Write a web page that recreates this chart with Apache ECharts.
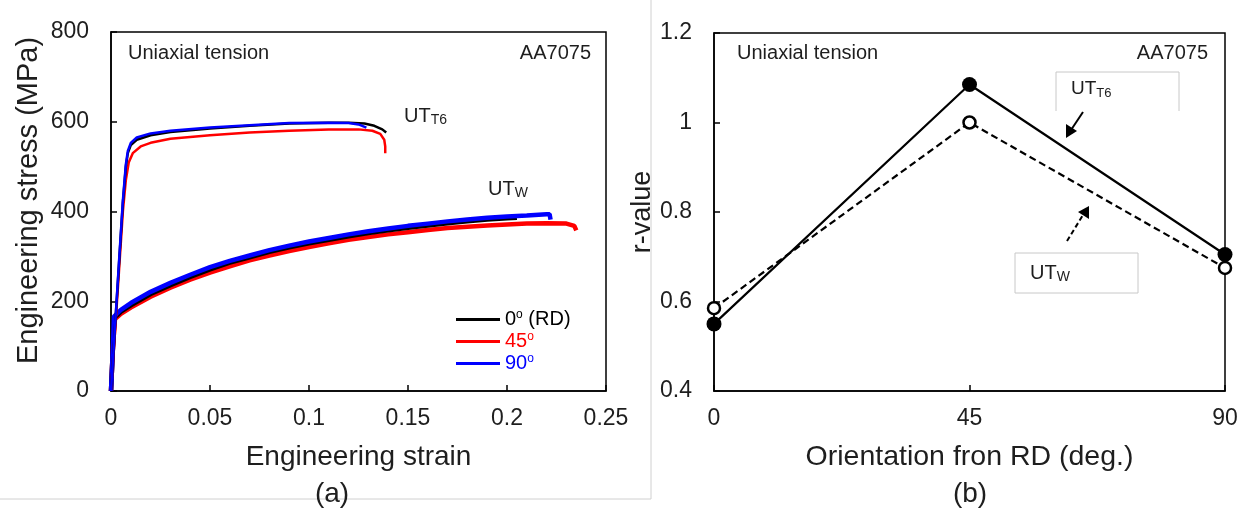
<!DOCTYPE html>
<html><head><meta charset="utf-8">
<script src="https://cdn.jsdelivr.net/npm/echarts@6/dist/echarts.min.js"></script>
<style>html,body{margin:0;padding:0;background:#fff}#c{width:1247px;height:513px}</style>
</head><body><div id="c"></div>
<script>
// ---- Data (a): engineering strain / stress ----
const t6_0  = [[0,0],[0.002,140],[0.004,280],[0.006,420],[0.0075,500],[0.0085,530],[0.01,548],[0.013,560],[0.02,570],[0.03,577],[0.05,585],[0.07,591],[0.09,596],[0.11,598],[0.12,598],[0.128,596],[0.133,591],[0.137,583],[0.139,576]];
const t6_45 = [[0,0],[0.002,130],[0.004,265],[0.006,400],[0.0075,470],[0.009,510],[0.011,530],[0.015,545],[0.02,553],[0.03,562],[0.05,570],[0.07,576],[0.09,580],[0.11,583],[0.125,583],[0.132,580],[0.136,573],[0.138,560],[0.1385,545],[0.1385,530]];
const t6_90 = [[0,0],[0.002,142],[0.004,285],[0.006,425],[0.0075,505],[0.0085,535],[0.01,553],[0.013,565],[0.02,574],[0.03,580],[0.05,587],[0.07,592],[0.09,597],[0.11,598],[0.12,597],[0.125,594],[0.129,587]];
const w_0   = [[0,0],[0.001,100],[0.0015,162],[0.005,177],[0.01,191],[0.02,216],[0.03,236],[0.04,254],[0.05,271],[0.06,286],[0.07,298],[0.08,310],[0.09,320],[0.1,329],[0.11,337],[0.12,345],[0.13,352],[0.14,358],[0.15,364],[0.16,369],[0.17,374],[0.18,378],[0.19,382],[0.2,385],[0.205,386]];
const w_45  = [[0,0],[0.001,100],[0.002,160],[0.005,172],[0.01,186],[0.02,210],[0.03,230],[0.04,248],[0.05,264],[0.06,278],[0.07,291],[0.08,302],[0.09,312],[0.1,321],[0.11,329],[0.12,337],[0.13,343],[0.14,349],[0.15,354],[0.16,359],[0.17,363],[0.18,366],[0.19,369],[0.2,371],[0.21,373],[0.22,374],[0.23,373],[0.234,368],[0.235,358]];
const w_90  = [[0,0],[0.001,100],[0.0015,166],[0.005,181],[0.01,196],[0.02,221],[0.03,241],[0.04,259],[0.05,276],[0.06,290],[0.07,302],[0.08,314],[0.09,324],[0.1,333],[0.11,341],[0.12,349],[0.13,356],[0.14,362],[0.15,368],[0.16,373],[0.17,378],[0.18,382],[0.19,386],[0.2,389],[0.21,391],[0.22,394],[0.2215,394],[0.222,382]];
// ---- Data (b): r-values ----
const orient = [0, 45, 90];
const rT6 = [0.55, 1.085, 0.705];
const rW  = [0.585, 1.0, 0.675];
// tick labels
const strainTicks = [0, 0.05, 0.1, 0.15, 0.2, 0.25];
const stressTicks = [0, 200, 400, 600, 800];

const FONT = 'Liberation Sans, Arial, sans-serif';
const TXT = '#1e1e1e';
const C0 = '#000000', C45 = '#ff0000', C90 = '#0000ff';
const chart = echarts.init(document.getElementById('c'));

function pairs(a){ return a.map(p => [p[0], p[1]]); }
function zipXY(x, y){ return x.map((v,i)=>[v, y[i]]); }

const axisCommon = {
  axisLine:{show:true, onZero:false, lineStyle:{color:'#000', width:1.5}},
  axisTick:{show:true, inside:true, length:6, lineStyle:{color:'#000', width:1.5}},
  splitLine:{show:false}
};
const tickFont = {color:TXT, fontSize:23, fontFamily:FONT};

const legendNames = {'0':'{a|0}{s|o}{a| (RD)}', '45':'{a|45}{s|o}', '90':'{a|90}{s|o}'};
function legendItem(name, color){
  return {name:name, textStyle:{color:color, rich:{
    a:{color:color, fontSize:20, fontFamily:FONT, lineHeight:21},
    s:{color:color, fontSize:12, fontFamily:FONT, verticalAlign:'top', lineHeight:21, padding:[0,0,8,0]}
  }}};
}

function sub(x, y, big, small, size){
  return {type:'text', left:x, top:y, style:{
    rich:{b:{fontSize:size, fontFamily:FONT, fill:TXT}, s:{fontSize:Math.round(size*0.7), fontFamily:FONT, fill:TXT, padding:[9,0,0,0]}},
    text:'{b|'+big+'}{s|'+small+'}'
  }, z:10};
}

chart.setOption({
  animation:false,
  backgroundColor:'#fff',
  textStyle:{fontFamily:FONT},
  grid:[
    {left:111, right:641, top:32, bottom:122, show:true, borderColor:'#000', borderWidth:1.5},
    {left:714, right:22, top:33, bottom:122, show:true, borderColor:'#000', borderWidth:1.5}
  ],
  xAxis:[
    Object.assign({}, axisCommon, {gridIndex:0, type:'value', min:0, max:0.25, interval:0.05,
      name:'Engineering strain', nameLocation:'middle', nameGap:52,
      nameTextStyle:{color:TXT, fontSize:28, fontFamily:FONT},
      axisLabel:Object.assign({}, tickFont, {margin:16, formatter:v=>String(+v.toFixed(2))})}),
    Object.assign({}, axisCommon, {gridIndex:1, type:'value', min:0, max:90, interval:45,
      name:'Orientation fron RD (deg.)', nameLocation:'middle', nameGap:52,
      nameTextStyle:{color:TXT, fontSize:28.5, fontFamily:FONT},
      axisLabel:Object.assign({}, tickFont, {margin:16})})
  ],
  yAxis:[
    Object.assign({}, axisCommon, {gridIndex:0, type:'value', min:0, max:800, interval:200,
      name:'Engineering stress (MPa)', nameLocation:'middle', nameGap:68,
      nameTextStyle:{color:TXT, fontSize:29, fontFamily:FONT, padding:[0,0,0,22]},
      axisLabel:Object.assign({}, tickFont, {margin:22})}),
    Object.assign({}, axisCommon, {gridIndex:1, type:'value', min:0.4, max:1.2, interval:0.2,
      name:'r-value', nameLocation:'middle', nameGap:35,
      nameTextStyle:{color:TXT, fontSize:27, fontFamily:FONT},
      axisLabel:Object.assign({}, tickFont, {margin:22, formatter:v=>String(+v.toFixed(1))})})
  ],
  legend:{
    left:451, top:304, orient:'vertical', itemWidth:44, itemHeight:3, itemGap:1.5, icon:'rect',
    formatter:n=>legendNames[n],
    data:[legendItem('0',C0), legendItem('45',C45), legendItem('90',C90)],
    selectedMode:false
  },
  series:[
    {name:'45', type:'line', xAxisIndex:0, yAxisIndex:0, data:pairs(w_45), showSymbol:false, lineStyle:{color:C45, width:4.5}, itemStyle:{color:C45}},
    {name:'0', type:'line', xAxisIndex:0, yAxisIndex:0, data:pairs(w_0), showSymbol:false, lineStyle:{color:C0, width:4.5}, itemStyle:{color:C0}},
    {name:'90', type:'line', xAxisIndex:0, yAxisIndex:0, data:pairs(w_90), showSymbol:false, lineStyle:{color:C90, width:4.5}, itemStyle:{color:C90}},
    {name:'45', type:'line', xAxisIndex:0, yAxisIndex:0, data:pairs(t6_45), showSymbol:false, lineStyle:{color:C45, width:2.5}, itemStyle:{color:C45}},
    {name:'0', type:'line', xAxisIndex:0, yAxisIndex:0, data:pairs(t6_0), showSymbol:false, lineStyle:{color:C0, width:2.5}, itemStyle:{color:C0}},
    {name:'90', type:'line', xAxisIndex:0, yAxisIndex:0, data:pairs(t6_90), showSymbol:false, lineStyle:{color:C90, width:2.5}, itemStyle:{color:C90}},
    {name:'UT_T6 r', type:'line', xAxisIndex:1, yAxisIndex:1, data:zipXY(orient, rT6), symbol:'circle', symbolSize:15,
      lineStyle:{color:'#000', width:2.2}, itemStyle:{color:'#000'}, z:5},
    {name:'UT_W r', type:'line', xAxisIndex:1, yAxisIndex:1, data:zipXY(orient, rW), symbol:'circle', symbolSize:12,
      lineStyle:{color:'#000', width:2.2, type:[7,4]}, itemStyle:{color:'#fff', borderColor:'#000', borderWidth:2.5}, z:6}
  ],
  graphic:[
    // separators
    {type:'line', shape:{x1:651, y1:0, x2:651, y2:499}, style:{stroke:'#d0d0d0', lineWidth:1}},
    {type:'line', shape:{x1:0, y1:499, x2:651, y2:499}, style:{stroke:'#d0d0d0', lineWidth:1}},
    // panel (a) texts
    {type:'text', left:128, top:43, style:{text:'Uniaxial tension', fontSize:20, fontFamily:FONT, fill:TXT}},
    {type:'text', right:1247-591, top:43, style:{text:'AA7075', fontSize:20, fontFamily:FONT, fill:TXT}},
    sub(404, 106, 'UT', 'T6', 20),
    sub(488, 179, 'UT', 'W', 20),
    {type:'text', x:332, y:494, style:{text:'(a)', fontSize:28, fontFamily:FONT, fill:TXT, align:'center', verticalAlign:'middle'}},
    // panel (b) texts
    {type:'text', left:737, top:43, style:{text:'Uniaxial tension', fontSize:20, fontFamily:FONT, fill:TXT}},
    {type:'text', right:1247-1208, top:43, style:{text:'AA7075', fontSize:20, fontFamily:FONT, fill:TXT}},
    {type:'polyline', shape:{points:[[1056,111],[1056,72],[1179,72],[1179,111]]}, style:{stroke:'#c8c8c8', fill:'none', lineWidth:1}},
    sub(1071, 79, 'UT', 'T6', 19),
    {type:'rect', shape:{x:1015, y:253, width:123, height:40}, style:{stroke:'#c8c8c8', fill:'#fff', lineWidth:1}},
    sub(1030, 263, 'UT', 'W', 20),
    // arrows
    {type:'line', shape:{x1:1083, y1:112, x2:1071, y2:130}, style:{stroke:'#000', lineWidth:2}},
    {type:'polygon', shape:{points:[[1066,138],[1066,124],[1077,131]]}, style:{fill:'#000'}},
    {type:'line', shape:{x1:1067, y1:241, x2:1083, y2:215}, style:{stroke:'#000', lineWidth:2, lineDash:[5,3]}},
    {type:'polygon', shape:{points:[[1089,206],[1078,212],[1089,219]]}, style:{fill:'#000'}},
    {type:'text', x:970, y:494, style:{text:'(b)', fontSize:28, fontFamily:FONT, fill:TXT, align:'center', verticalAlign:'middle'}}
  ]
});
</script></body></html>
